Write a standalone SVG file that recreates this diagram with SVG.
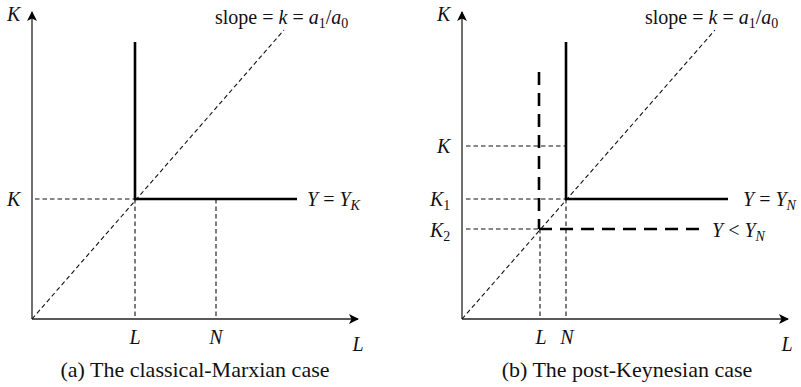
<svg xmlns="http://www.w3.org/2000/svg" width="801" height="387" viewBox="0 0 801 387">
<style>
text{font-family:"Liberation Serif","DejaVu Serif",serif;fill:#111;font-size:20px}
.i{font-style:italic}
.cap{font-size:22px}
.sub{font-size:14px}
.ax{stroke:#222;stroke-width:1.3;fill:none}
.thick{stroke:#000;stroke-width:2.6;fill:none}
.dash{stroke:#111;stroke-width:1.1;stroke-dasharray:4.5,3;fill:none}
.ldash{stroke:#000;stroke-width:2.6;stroke-dasharray:13,8;fill:none}
</style>
<defs>
<marker id="ar" viewBox="0 0 10 10" refX="9" refY="5" markerWidth="10" markerHeight="10" markerUnits="userSpaceOnUse" orient="auto">
<path d="M0,0 L10,5 L0,10 L2.5,5 Z" fill="#000"/>
</marker>
</defs>
<rect width="801" height="387" fill="#fff"/>
<g id="panel-a">
<g id="axes-a">
<path class="ax" d="M32,319 V12" marker-end="url(#ar)"/>
<path class="ax" d="M32,319 H358" marker-end="url(#ar)"/>
</g>
<g id="connectors-a">
<path class="dash" d="M32,319 L284,30"/>
<path class="dash" d="M35,199 H135"/>
<path class="dash" d="M135,199 V319"/>
<path class="dash" d="M216,199 V319"/>
</g>
<g id="isoquant-a">
<path class="thick" d="M135,42 V199 H297"/>
</g>
<g id="labels-a">
<text class="i" x="7" y="21">K</text>
<text class="i" x="7" y="206">K</text>
<text x="215" y="24">slope = <tspan class="i">k</tspan> = <tspan class="i">a</tspan><tspan class="sub" dy="4">1</tspan><tspan dy="-4">/</tspan><tspan class="i">a</tspan><tspan class="sub" dy="4">0</tspan></text>
<text x="307" y="206"><tspan class="i">Y</tspan> = <tspan class="i">Y</tspan><tspan class="sub i" dy="4">K</tspan></text>
<text class="i" x="135" y="344" text-anchor="middle">L</text>
<text class="i" x="216" y="344" text-anchor="middle">N</text>
<text class="i" x="358" y="351" text-anchor="middle">L</text>
<text class="cap" x="195" y="377" text-anchor="middle">(a) The classical-Marxian case</text>
</g>
</g>
<g id="panel-b">
<g id="axes-b">
<path class="ax" d="M462,319 V12" marker-end="url(#ar)"/>
<path class="ax" d="M462,319 H788" marker-end="url(#ar)"/>
</g>
<g id="connectors-b">
<path class="dash" d="M462,319 L715,30"/>
<path class="dash" d="M466,146 H566"/>
<path class="dash" d="M466,199 H566"/>
<path class="dash" d="M466,229 H540"/>
<path class="dash" d="M540,229 V319"/>
<path class="dash" d="M566,199 V319"/>
</g>
<g id="isoquant-b-low">
<path class="ldash" d="M539,72 V229"/>
<path class="ldash" d="M539,229 H702"/>
</g>
<g id="isoquant-b">
<path class="thick" d="M566,42 V199 H728"/>
</g>
<g id="labels-b">
<text class="i" x="437" y="21">K</text>
<text class="i" x="437" y="153">K</text>
<text class="i" x="430" y="206">K<tspan class="sub" font-style="normal" dy="4">1</tspan></text>
<text class="i" x="430" y="237">K<tspan class="sub" font-style="normal" dy="4">2</tspan></text>
<text x="645" y="24">slope = <tspan class="i">k</tspan> = <tspan class="i">a</tspan><tspan class="sub" dy="4">1</tspan><tspan dy="-4">/</tspan><tspan class="i">a</tspan><tspan class="sub" dy="4">0</tspan></text>
<text x="743" y="206"><tspan class="i">Y</tspan> = <tspan class="i">Y</tspan><tspan class="sub i" dy="4">N</tspan></text>
<text x="712" y="237"><tspan class="i">Y</tspan> &lt; <tspan class="i">Y</tspan><tspan class="sub i" dy="4">N</tspan></text>
<text class="i" x="541" y="344" text-anchor="middle">L</text>
<text class="i" x="567" y="344" text-anchor="middle">N</text>
<text class="i" x="787" y="351" text-anchor="middle">L</text>
<text class="cap" x="627" y="377" text-anchor="middle">(b) The post-Keynesian case</text>
</g>
</g>
</svg>
